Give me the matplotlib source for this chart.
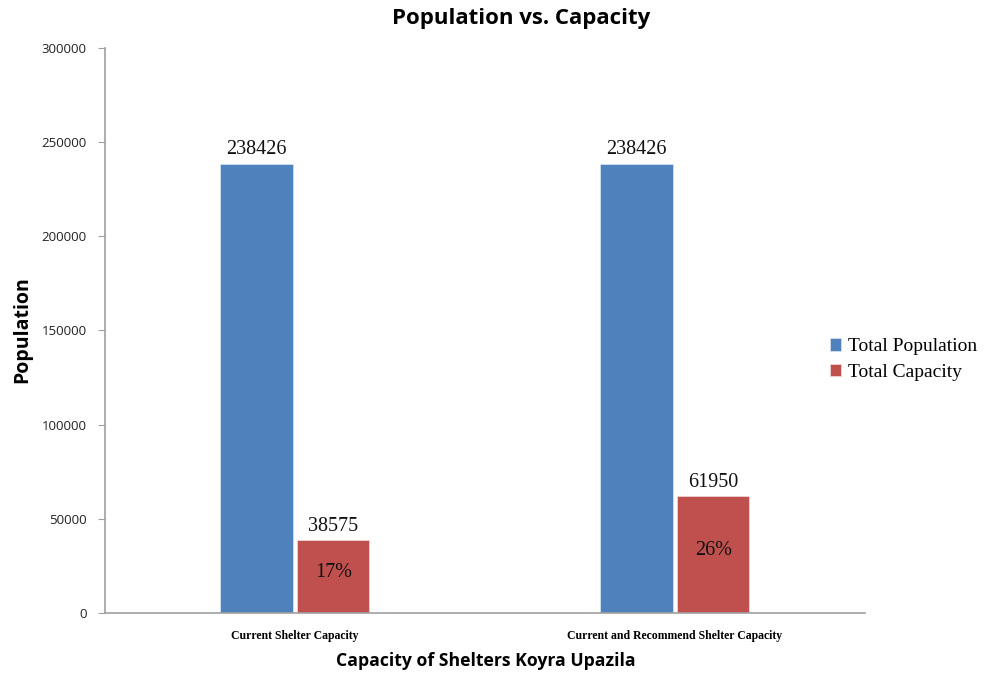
import numpy as np
import matplotlib
matplotlib.use("Agg")
import matplotlib.pyplot as plt

categories = ["Current Shelter Capacity", "Current and Recommend Shelter Capacity"]
population = [238426, 238426]
capacity = [38575, 61950]
capacity_pct = ["17%", "26%"]
yticks = [0, 50000, 100000, 150000, 200000, 250000, 300000]

blue = "#4F81BD"
red = "#C0504D"

fig = plt.figure(figsize=(9.95, 6.75), dpi=100)
ax = fig.add_axes([0.1055, 0.0919, 0.7638, 0.837])

x = np.arange(len(categories))
w = 0.19
off = 0.101
b1 = ax.bar(x - off, population, w, color=blue, edgecolor="#dce6f2", linewidth=0.5,
            label="Total Population")
b2 = ax.bar(x + off, capacity, w, color=red, edgecolor="#f2dcdb", linewidth=0.5,
            label="Total Capacity")

vfont = dict(family="Liberation Serif", fontsize=14.5, color="#111111")
for rect, v in zip(b1, population):
    ax.text(rect.get_x() + rect.get_width() / 2, v + 2500, str(v), ha="center", va="bottom",
            **vfont)
for rect, v, p in zip(b2, capacity, capacity_pct):
    ax.text(rect.get_x() + rect.get_width() / 2, v + 2500, str(v), ha="center", va="bottom",
            **vfont)
    ax.text(rect.get_x() + rect.get_width() / 2, v / 2 + 2000, p, ha="center", va="center",
            **vfont)

ax.set_xlim(-0.5, 1.5)
ax.set_ylim(0, 300000)
ax.set_yticks(yticks)
ax.set_yticklabels([str(t) for t in yticks], family="Open Sans", fontsize=9.5, color="#222222")
ax.set_xticks(x)
ax.set_xticklabels(categories, family="Liberation Serif", fontweight="bold", fontsize=8.5)
ax.tick_params(axis="x", length=0, pad=12)
ax.tick_params(axis="y", length=5, color="#a0a0a0", pad=8)

for s in ["top", "right"]:
    ax.spines[s].set_visible(False)
for s in ["left", "bottom"]:
    ax.spines[s].set_color("#a0a0a0")
    ax.spines[s].set_linewidth(1.2)

fig.text(0.524, 0.972, "Population vs. Capacity", ha="center", va="center",
         family="Open Sans", fontweight="bold", fontsize=16)
fig.text(0.022, 0.511, "Population", ha="center", va="center", rotation=90,
         family="Open Sans", fontweight="bold", fontsize=14)
fig.text(0.488, 0.02, "Capacity of Shelters Koyra Upazila", ha="center", va="center",
         family="Open Sans", fontweight="bold", fontsize=12.7)

fig.legend(handles=[b1, b2], loc="center left", bbox_to_anchor=(0.834, 0.467),
           frameon=False, prop={"family": "Liberation Serif", "size": 14},
           borderpad=0, borderaxespad=0,
           handlelength=0.6, handleheight=0.6, handletextpad=0.35, labelspacing=0.45)

fig.savefig("out.png", dpi=100)
